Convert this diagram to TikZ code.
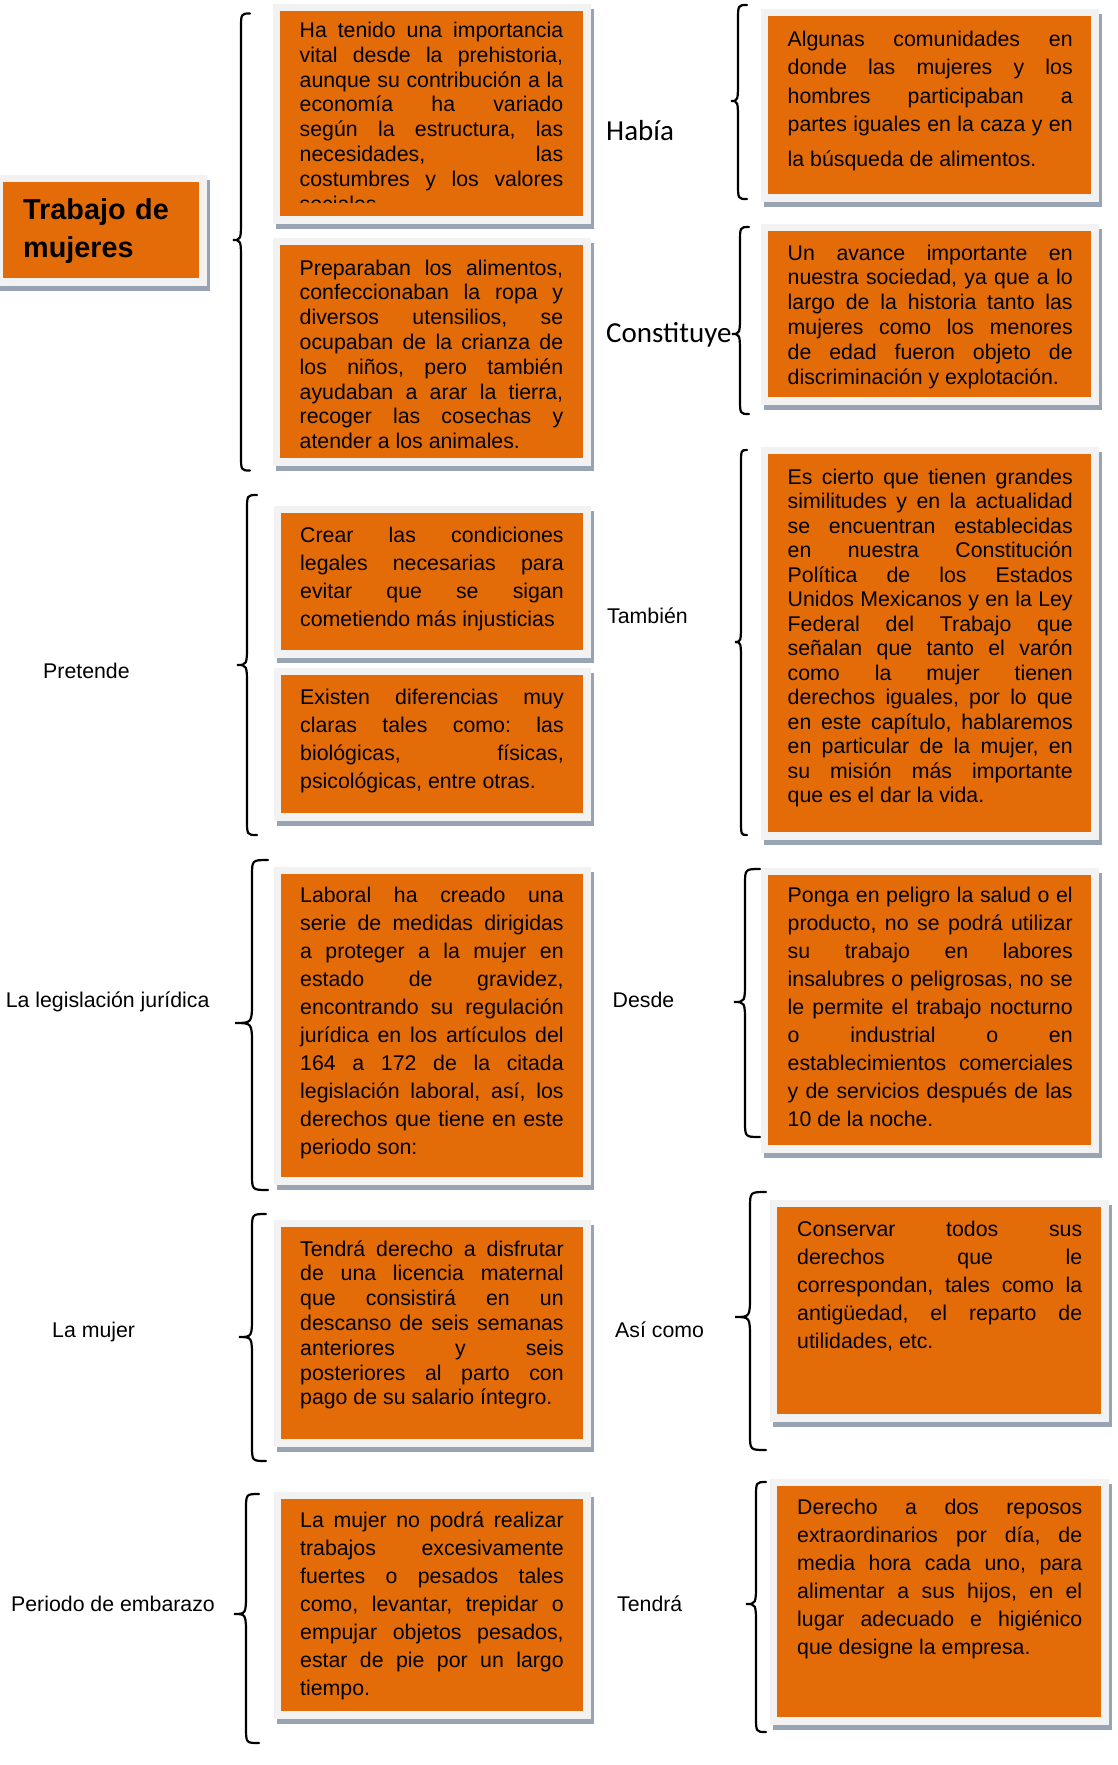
\documentclass[tikz,border=0pt]{standalone}
\usepackage{fontspec}
\setmainfont{Liberation Sans}
\newfontfamily\calibri{Carlito}
\definecolor{corange}{HTML}{E36C09}
\definecolor{cframe}{HTML}{F2F2F2}
\definecolor{cshadow}{HTML}{98A3B3}
% card text: size 21.3, given line spacing, stretchy spaces
\newcommand\cardfont[1]{\fontsize{21.3}{#1}\selectfont\frenchspacing\spaceskip=.278em plus 8em minus .08em\relax\hyphenpenalty=10000\tolerance=10000}
% one justified line of a card
\newcommand\jline[1]{#1\linebreak}
% curly bracket: end x, spine x, tip x, top y, tip y, bottom y
\newcommand\curly[6]{\draw[curlyline] (#1,#4) .. controls (#2,#4) .. (#2,#4+16) -- (#2,#5-22) .. controls (#2,#5) .. (#3,#5) .. controls (#2,#5) .. (#2,#5+22) -- (#2,#6-16) .. controls (#2,#6) .. (#1,#6);}
\tikzset{
  card/.style={rectangle, fill=corange, draw=cframe, line width=7.5pt, inner sep=0pt,
    preaction={draw=cshadow, fill=cshadow, line width=7.5pt, transform canvas={xshift=3pt, yshift=-5pt}}},
  body/.style={anchor=base west, inner sep=0pt, align=justify, text width=263.5pt, font=\cardfont{24.8}},
  loose/.style={font=\cardfont{28.1}},
  wide/.style={text width=285pt},
  lbl/.style={anchor=base west, inner sep=0pt, font=\fontsize{21.3}{25}\selectfont},
  clbl/.style={lbl, font=\calibri\fontsize{29}{34}\selectfont},
  headline/.style={anchor=base west, inner sep=0pt, align=left, text width=180pt, font=\bfseries\fontsize{28.8}{38}\selectfont},
  curlyline/.style={draw=black, line width=2.2pt, line cap=round},
}
\begin{document}
\begin{tikzpicture}[x=1pt,y=-1pt]
\useasboundingbox (0,0) rectangle (1118,1765);
% title
\node[card, minimum width=203.5pt, minimum height=103.5pt] (head) at (101,230) {};
\node[headline] (headt) at (23,219) {Trabajo de\\mujeres};
% first column
\node[card, minimum width=310.5pt, minimum height=212.5pt] (a1) at (431.5,113.5) {};
\begin{scope}
\clip ([yshift=20.75pt]a1.south west) rectangle (a1.north east);
\node[body] (a1t) at (299.5,37.5) {\jline{Ha tenido una importancia}
\jline{vital desde la prehistoria,}
\jline{aunque su contribución a la}
\jline{economía ha variado}
\jline{según la estructura, las}
\jline{necesidades, las}
\jline{costumbres y los valores}
sociales};
\end{scope}
\node[card, minimum width=310.5pt, minimum height=220.5pt] (a2) at (431.5,351.5) {};
\node[body] (a2t) at (299.5,275) {\jline{Preparaban los alimentos,}
\jline{confeccionaban la ropa y}
\jline{diversos utensilios, se}
\jline{ocupaban de la crianza de}
\jline{los niños, pero también}
\jline{ayudaban a arar la tierra,}
\jline{recoger las cosechas y}
atender a los animales.};
\node[card, minimum width=309.5pt, minimum height=144.5pt] (c1) at (432,581.5) {};
\node[body, loose] (c1t) at (300,542) {\jline{Crear las condiciones}
\jline{legales necesarias para}
\jline{evitar que se sigan}
cometiendo más injusticias};
\node[card, minimum width=309.5pt, minimum height=145.5pt] (c2) at (432,744) {};
\node[body, loose] (c2t) at (300,704) {\jline{Existen diferencias muy}
\jline{claras tales como: las}
\jline{biológicas, físicas,}
psicológicas, entre otras.};
\node[card, minimum width=309.5pt, minimum height=310.5pt] (e) at (432,1025.5) {};
\node[body, loose] (et) at (300,902) {\jline{Laboral ha creado una}
\jline{serie de medidas dirigidas}
\jline{a proteger a la mujer en}
\jline{estado de gravidez,}
\jline{encontrando su regulación}
\jline{jurídica en los artículos del}
\jline{164 a 172 de la citada}
\jline{legislación laboral, así, los}
\jline{derechos que tiene en este}
periodo son:};
\node[card, minimum width=309.5pt, minimum height=219.5pt] (g) at (432,1333) {};
\node[body] (gt) at (300,1256) {\jline{Tendrá derecho a disfrutar}
\jline{de una licencia maternal}
\jline{que consistirá en un}
\jline{descanso de seis semanas}
\jline{anteriores y seis}
\jline{posteriores al parto con}
pago de su salario íntegro.};
\node[card, minimum width=309.5pt, minimum height=219.5pt] (i) at (432,1605) {};
\node[body, loose] (it) at (300,1527) {\jline{La mujer no podrá realizar}
\jline{trabajos excesivamente}
\jline{fuertes o pesados tales}
\jline{como, levantar, trepidar o}
\jline{empujar objetos pesados,}
\jline{estar de pie por un largo}
tiempo.};
% second column
\node[card, minimum width=330.5pt, minimum height=185.5pt] (b1) at (929.5,105) {};
\node[body, wide, font=\cardfont{28.3}] (b1t) at (787.5,46.5) {\jline{Algunas comunidades en}
\jline{donde las mujeres y los}
\jline{hombres participaban a}
\jline{partes iguales en la caza y en\vadjust{\vskip6.7pt}}
la búsqueda de alimentos.};
\node[card, minimum width=330.5pt, minimum height=173.5pt] (b2) at (929.5,314) {};
\node[body, wide] (b2t) at (787.5,260) {\jline{Un avance importante en}
\jline{nuestra sociedad, ya que a lo}
\jline{largo de la historia tanto las}
\jline{mujeres como los menores}
\jline{de edad fueron objeto de}
discriminación y explotación.};
\node[card, minimum width=330.5pt, minimum height=385.5pt] (d) at (929.5,643) {};
\node[body, wide, font=\cardfont{24.5}] (dt) at (787.5,484) {\jline{Es cierto que tienen grandes}
\jline{similitudes y en la actualidad}
\jline{se encuentran establecidas}
\jline{en nuestra Constitución}
\jline{Política de los Estados}
\jline{Unidos Mexicanos y en la Ley}
\jline{Federal del Trabajo que}
\jline{señalan que tanto el varón}
\jline{como la mujer tienen}
\jline{derechos iguales, por lo que}
\jline{en este capítulo, hablaremos}
\jline{en particular de la mujer, en}
\jline{su misión más importante}
que es el dar la vida.};
\node[card, minimum width=330.5pt, minimum height=277.5pt] (f) at (929.5,1010) {};
\node[body, wide, loose] (ft) at (787.5,902) {\jline{Ponga en peligro la salud o el}
\jline{producto, no se podrá utilizar}
\jline{su trabajo en labores}
\jline{insalubres o peligrosas, no se}
\jline{le permite el trabajo nocturno}
\jline{o industrial o en}
\jline{establecimientos comerciales}
\jline{y de servicios después de las}
10 de la noche.};
\node[card, minimum width=331.5pt, minimum height=214.5pt] (h) at (939,1310.5) {};
\node[body, wide, loose] (ht) at (797,1236) {\jline{Conservar todos sus}
\jline{derechos que le}
\jline{correspondan, tales como la}
\jline{antigüedad, el reparto de}
utilidades, etc.};
\node[card, minimum width=331.5pt, minimum height=238.5pt] (j) at (939,1601.5) {};
\node[body, wide, loose] (jt) at (797,1514) {\jline{Derecho a dos reposos}
\jline{extraordinarios por día, de}
\jline{media hora cada uno, para}
\jline{alimentar a sus hijos, en el}
\jline{lugar adecuado e higiénico}
que designe la empresa.};
% labels
\node[clbl] (habia) at (606,140) {Había};
\node[clbl] (constituye) at (606,342) {Constituye};
\node[lbl] (pretende) at (43,678) {Pretende};
\node[lbl] (tambien) at (607,623) {También};
\node[lbl] (legis) at (5.6,1007) {La legislación jurídica};
\node[lbl] (desde) at (612.5,1007) {Desde};
\node[lbl] (mujer) at (52,1337) {La mujer};
\node[lbl] (asi) at (615,1337) {Así como};
\node[lbl] (periodo) at (11,1611) {Periodo de embarazo};
\node[lbl] (tendra) at (617,1611) {Tendrá};
% brackets
\curly{250}{241}{233}{13.5}{240}{470.5}
\curly{747}{738}{731}{5}{101}{199}
\curly{749}{740}{732}{227}{334}{414}
\curly{257}{247}{237}{495}{665}{835}
\curly{747}{741}{735}{450}{642}{835}
\curly{268}{252}{235}{860}{1023}{1190}
\curly{760}{745}{734}{869}{1002}{1137}
\curly{266}{252}{239}{1214}{1337}{1461}
\curly{766}{750}{735}{1192}{1317}{1450}
\curly{259}{246}{234}{1494}{1614}{1743}
\curly{766}{756}{746}{1482}{1604}{1732}
\end{tikzpicture}
\end{document}
